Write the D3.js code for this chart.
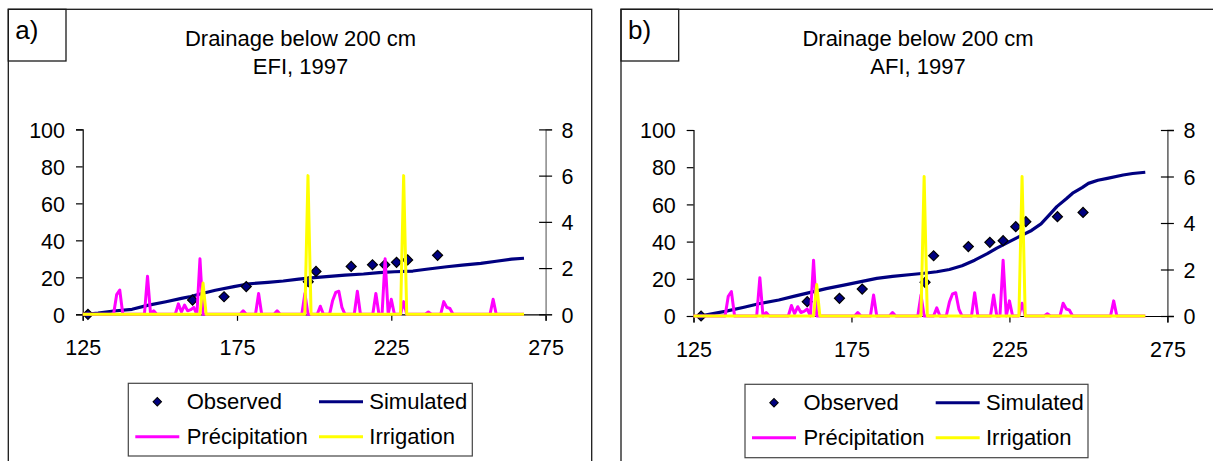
<!DOCTYPE html>
<html><head><meta charset="utf-8">
<script src="https://cdn.jsdelivr.net/npm/d3@7"></script>
<style>
body{margin:0;background:#fff;}
svg text{font-family:"Liberation Sans",Arial,sans-serif;fill:#000;}
</style>
</head><body>
<svg id="c" width="1213" height="461"></svg>
<script>
// ---------- data ----------
const dayStart = 125, dayEnd = 268;
const xTicks = [125, 175, 225, 275];
const yLeftTicks = [0, 20, 40, 60, 80, 100];
const yRightTicks = [0, 2, 4, 6, 8];
const legendLabels = ["Observed", "Simulated", "Précipitation", "Irrigation"];
const panelLetters = ["a)", "b)"];
const titleA = ["Drainage below 200 cm", "EFI, 1997"];
const titleB = ["Drainage below 200 cm", "AFI, 1997"];

// daily precipitation (right axis), days without rain are 0
const precipDays   = [136, 137, 146, 148, 156, 157, 158, 159, 160, 161, 163, 177, 182, 188, 197, 202, 206, 207, 208, 209, 214, 220, 223, 225, 229, 237, 242, 243, 244, 258];
const precipValues = [0.85, 1.05, 1.65, 0.15, 0.45, 0.1, 0.4, 0.15, 0.2, 0.3, 2.4, 0.15, 0.9, 0.15, 0.9, 0.35, 0.6, 0.95, 1.0, 0.3, 1.0, 0.9, 2.4, 0.65, 0.55, 0.1, 0.55, 0.3, 0.25, 0.65];

// daily irrigation (right axis)
const irrigDays   = [164, 198, 229];
const irrigValues = [1.35, 6, 6];

// panel a
const obsDaysA   = [126.7, 160.6, 170.8, 178, 198.1, 200.6, 212, 218.9, 222.9, 226.7, 230.3, 240];
const obsValuesA = [0, 7.7, 9.5, 15, 17.6, 23.2, 25.9, 26.8, 26.8, 28.1, 29.4, 31.9];
const simDaysA   = [126, 130, 135, 141, 146, 152, 157, 160, 163, 168, 174, 179, 185, 190, 195, 200, 205, 210, 216, 221, 226, 232, 237, 243, 248, 254, 259, 264, 268];
const simValuesA = [0, 0.7, 1.8, 2.7, 4.8, 6.8, 8.6, 9.6, 11, 13, 15, 16.5, 17.3, 18, 19, 19.8, 20.5, 21.2, 21.8, 22.5, 23, 23.4, 24.5, 25.7, 26.6, 27.5, 28.7, 29.8, 30.3];

// panel b
const obsDaysB   = [127.4, 161, 171.2, 178.4, 198.3, 201, 212, 218.8, 223, 227, 230.2, 240.2, 248.3];
const obsValuesB = [0, 7.7, 9.5, 14.5, 18.1, 32.4, 37.3, 39.6, 40.5, 48, 50.7, 53.4, 55.7];
const simDaysB   = [127, 135, 141, 146, 152, 157, 162, 167, 173, 178, 183, 188, 194, 198, 202, 206, 210, 214, 218, 221, 225, 229, 232, 235, 238, 240, 243, 245, 248, 250, 253, 256, 261, 264, 268];
const simValuesB = [0, 2.5, 4.7, 6.7, 8.6, 10.7, 12.7, 14.7, 16.7, 18.5, 20.2, 21.3, 22.3, 23, 23.8, 25, 27, 30, 33.5, 36.5, 40, 43.5, 46, 49.5, 55, 58.8, 63, 66, 69, 71.3, 73, 74, 75.8, 76.6, 77.3];

// ---------- helpers ----------
const days = d3.range(dayStart, dayEnd + 1);
function dailySeries(dList, vList) {
  const m = new Map(dList.map((d, i) => [d, vList[i]]));
  return days.map(d => ({d, v: m.has(d) ? m.get(d) : 0}));
}
const precipSeries = dailySeries(precipDays, precipValues);
const irrigSeries = dailySeries(irrigDays, irrigValues);

const svg = d3.select("#c");
const FONT = 21.5;

function drawPanel(cfg) {
  const g = svg.append("g");
  // frame
  g.append("rect").attr("x", cfg.frame[0]).attr("y", cfg.frame[1])
    .attr("width", cfg.frame[2]).attr("height", cfg.frame[3])
    .attr("fill", "none").attr("stroke", "#1a1a1a").attr("stroke-width", 1.3);
  g.append("rect").attr("x", cfg.frame[0]).attr("y", cfg.frame[1])
    .attr("width", 57.7).attr("height", 51.7)
    .attr("fill", "none").attr("stroke", "#1a1a1a").attr("stroke-width", 1.3);
  g.append("text").attr("x", cfg.frame[0] + 7).attr("y", 39)
    .style("font-size", "26px").text(cfg.letter);

  // title
  cfg.title.forEach((t, i) => {
    g.append("text").attr("x", cfg.titleX).attr("y", i === 0 ? 45.7 : 74.3)
      .attr("text-anchor", "middle").style("font-size", "22px").text(t);
  });

  const x = d3.scaleLinear().domain([125, 275]).range([cfg.x0, cfg.x1]);
  const yL = d3.scaleLinear().domain([0, 100]).range([cfg.y0, cfg.y1]);
  const yR = d3.scaleLinear().domain([0, 8]).range([cfg.y0, cfg.y1]);

  // axes
  const ax = g.append("g").attr("transform", `translate(0,${cfg.y0})`)
    .call(d3.axisBottom(x).tickValues(xTicks).tickFormat(d3.format("d")).tickSize(6.5).tickPadding(19));
  const axl = g.append("g").attr("transform", `translate(${cfg.x0},0)`)
    .call(d3.axisLeft(yL).tickValues(yLeftTicks).tickSize(6.7).tickPadding(11));
  const axr = g.append("g").attr("transform", `translate(${cfg.x1},0)`)
    .call(d3.axisRight(yR).tickValues(yRightTicks).tickSize(6.5).tickPadding(9.5));
  axr.selectAll(".tick line").attr("x1", -6.5);
  [ax, axl, axr].forEach(a => {
    a.selectAll("text").style("font-size", FONT + "px").attr("fill", "#000");
    a.selectAll("line").attr("stroke", "#000").attr("stroke-width", 1.2);
    a.select(".domain").attr("stroke", "#000").attr("stroke-width", 1.2);
  });
  axr.select(".domain").attr("stroke", cfg.rightAxisColor).attr("stroke-width", 1.4);
  axl.selectAll(".tick text").attr("dy", "0.36em");
  axr.selectAll(".tick text").attr("dy", "0.36em");

  // simulated
  g.append("path").datum(cfg.simDays.map((d, i) => ({d, v: cfg.simValues[i]})))
    .attr("fill", "none").attr("stroke", "#000080").attr("stroke-width", 3.2)
    .attr("stroke-linejoin", "round")
    .attr("d", d3.line().x(p => x(p.d)).y(p => yL(p.v)));

  // observed
  const sym = d3.symbol().type(d3.symbolSquare).size(50);
  g.selectAll(null).data(cfg.obsDays.map((d, i) => ({d, v: cfg.obsValues[i]}))).join("path")
    .attr("d", sym())
    .attr("transform", p => `translate(${x(p.d)},${yL(p.v)}) rotate(45)`)
    .attr("fill", "#000080").attr("stroke", "#000").attr("stroke-width", 1.2);

  // precipitation
  g.append("path").datum(precipSeries)
    .attr("fill", "none").attr("stroke", "#FF00FF").attr("stroke-width", 3)
    .attr("stroke-linejoin", "round")
    .attr("d", d3.line().x(p => x(p.d)).y(p => yR(p.v)));
  // irrigation
  g.append("path").datum(irrigSeries)
    .attr("fill", "none").attr("stroke", "#FFFF00").attr("stroke-width", 3)
    .attr("stroke-linejoin", "round")
    .attr("d", d3.line().x(p => x(p.d)).y(p => yR(p.v)));

  // legend
  const L = cfg.legend;
  g.append("rect").attr("x", L[0]).attr("y", L[1]).attr("width", L[2]).attr("height", L[3])
    .attr("fill", "#fff").attr("stroke", "#444").attr("stroke-width", 1.2);
  const r1 = L[1] + 18.5, r2 = L[1] + 53.5;
  g.append("path").attr("d", d3.symbol().type(d3.symbolSquare).size(36)())
    .attr("transform", `translate(${L[0] + 29},${r1}) rotate(45)`)
    .attr("fill", "#000080").attr("stroke", "#000").attr("stroke-width", 1);
  const lineItems = [
    {x: L[0] + 190.7, y: r1, c: "#000080"},
    {x: L[0] + 7, y: r2, c: "#FF00FF"},
    {x: L[0] + 190.7, y: r2, c: "#FFFF00"}
  ];
  lineItems.forEach(it => {
    g.append("line").attr("x1", it.x).attr("x2", it.x + 44).attr("y1", it.y).attr("y2", it.y)
      .attr("stroke", it.c).attr("stroke-width", 3);
  });
  const textPos = [[58.4, r1], [241, r1], [58.4, r2], [241, r2]];
  legendLabels.forEach((t, i) => {
    g.append("text").attr("x", L[0] + textPos[i][0]).attr("y", textPos[i][1] + 7.5)
      .style("font-size", "22px").text(t);
  });
}

drawPanel({
  frame: [8.3, 9.3, 583.4, 470], letter: panelLetters[0], title: titleA, titleX: 300.5,
  x0: 82.7, x1: 545.6, y0: 314.3, y1: 129.4, rightAxisColor: "#808080",
  simDays: simDaysA, simValues: simValuesA, obsDays: obsDaysA, obsValues: obsValuesA,
  legend: [128.3, 383.3, 344, 72.7]
});
drawPanel({
  frame: [621, 9.3, 600, 470], letter: panelLetters[1], title: titleB, titleX: 918,
  x0: 693.5, x1: 1167.4, y0: 316, y1: 130, rightAxisColor: "#505050",
  simDays: simDaysB, simValues: simValuesB, obsDays: obsDaysB, obsValues: obsValuesB,
  legend: [745, 384.3, 343, 73.4]
});
</script>
</body></html>
